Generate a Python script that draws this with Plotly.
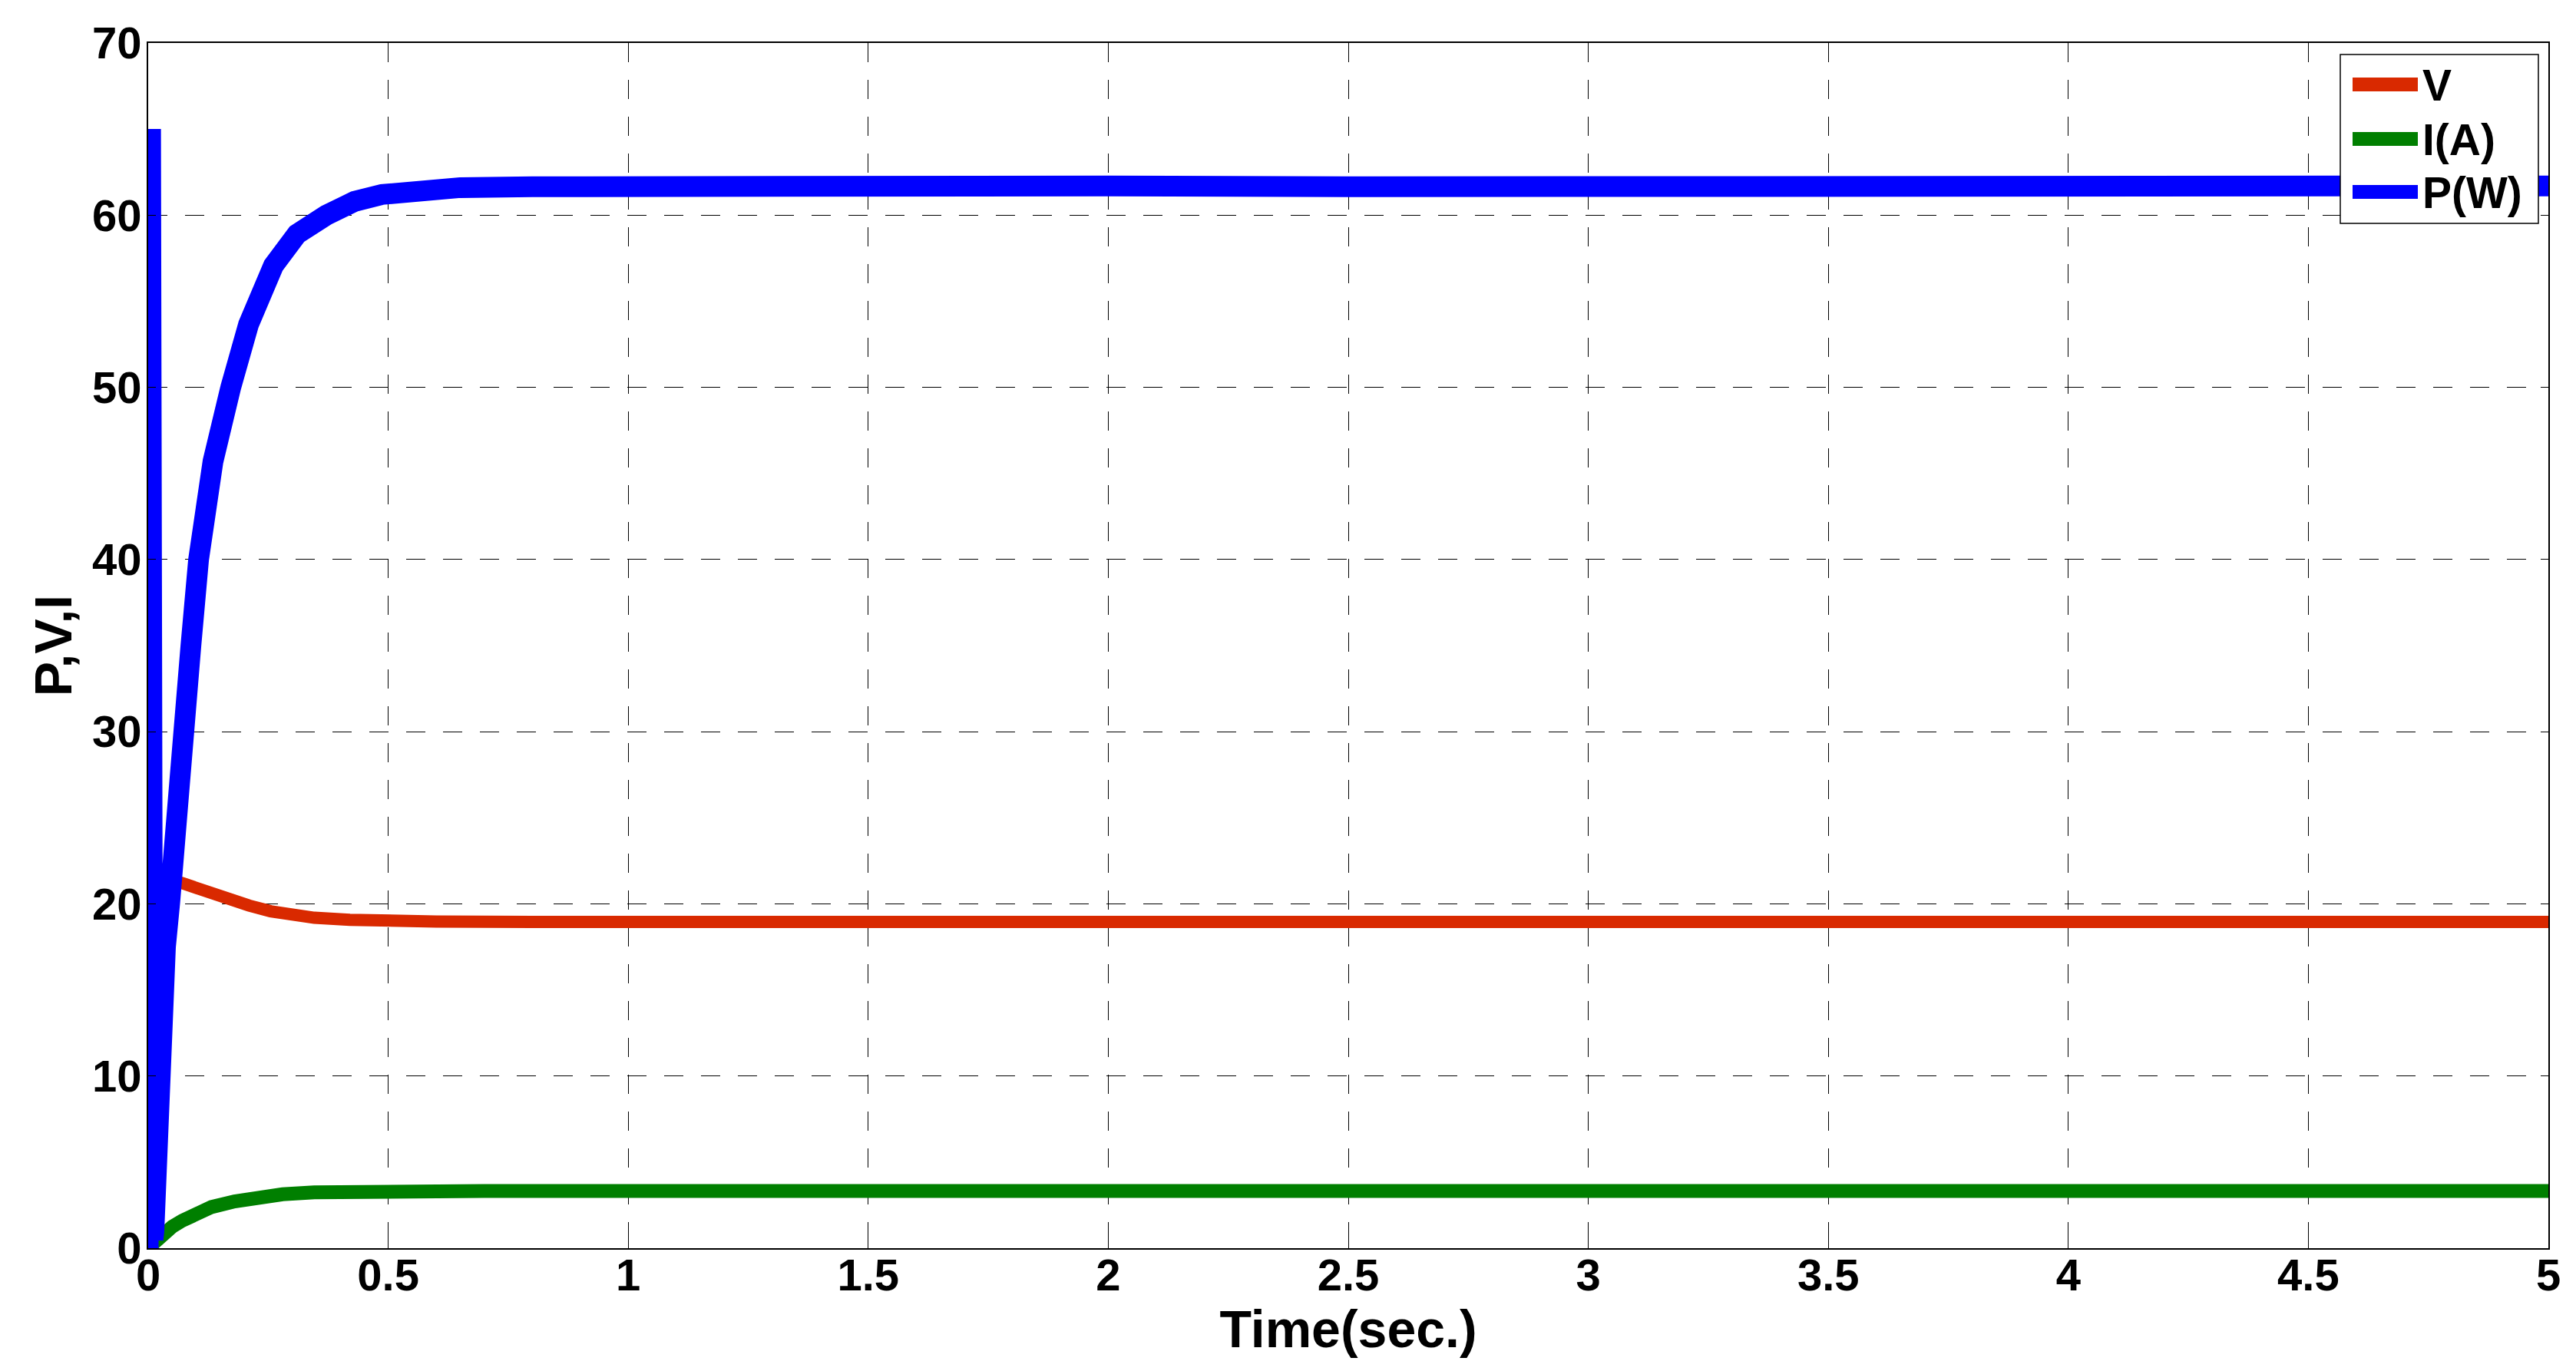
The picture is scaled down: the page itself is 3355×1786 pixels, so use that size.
import plotly.graph_objects as go

# ---------------- data ----------------
t_P = [0.0, 0.005, 0.010, 0.012, 0.016, 0.022, 0.028, 0.036, 0.045, 0.059, 0.071,
       0.089, 0.105, 0.135, 0.172, 0.209, 0.261, 0.31, 0.371, 0.43, 0.487, 0.55,
       0.65, 0.8, 1.0, 1.5, 2.0, 2.5, 3.0, 3.5, 4.0, 4.5, 5.0]
P_W = [0.0, 65.0, 0.5, 1.0, 5.5, 10.0, 14.6, 17.5, 20.1, 25.9, 30.0,
       35.0, 40.0, 45.7, 50.0, 53.65, 57.07, 58.9, 60.0, 60.8, 61.2, 61.45,
       61.6, 61.65, 61.7, 61.75, 61.7, 61.65, 61.7, 61.7, 61.7, 61.7, 61.7]

t_V = [0.0, 0.012, 0.02, 0.03, 0.071, 0.12, 0.163, 0.21, 0.255, 0.3, 0.346,
       0.42, 0.498, 0.6, 0.8, 1.0, 1.5, 2.0, 2.5, 3.0, 3.5, 4.0, 4.5, 5.0]
V = [21.9, 21.9, 21.7, 21.5, 21.2, 20.7, 20.26, 19.9, 19.57, 19.35, 19.19,
     19.07, 19.0, 18.97, 18.95, 18.95, 18.95, 18.95, 18.95, 18.95, 18.95, 18.95, 18.95, 18.95]

t_I = [0.0, 0.012, 0.031, 0.05, 0.071, 0.1, 0.132, 0.18, 0.224, 0.28, 0.346,
       0.42, 0.5, 0.7, 1.0, 1.5, 2.0, 2.5, 3.0, 3.5, 4.0, 4.5, 5.0]
I_A = [0.0, 0.35, 0.81, 1.25, 1.6, 2.0, 2.39, 2.72, 2.97, 3.13, 3.24,
       3.29, 3.31, 3.32, 3.32, 3.32, 3.32, 3.32, 3.32, 3.32, 3.32, 3.32, 3.32]

series_names = ["V", "I(A)", "P(W)"]
series_colors = ["#d92900", "#007f00", "#0000ff"]
x_ticks = [0, 0.5, 1, 1.5, 2, 2.5, 3, 3.5, 4, 4.5, 5]
y_ticks = [0, 10, 20, 30, 40, 50, 60, 70]

# ---------------- figure ----------------
# page body has an 8px margin: size/offset the figure so the plot area
# lands on page pixels x 193..3319, y 56..1626
BODY = 8
W, H = 3355 - 2 * BODY, 1786 - 2 * BODY
ML, MR, MT = 193 - BODY, 3355 - BODY - 3319, 56 - BODY
MB = H - MT - (1626 - 56)
FONT = "Liberation Sans, Arial, sans-serif"

fig = go.Figure()
fig.add_trace(go.Scatter(x=t_V, y=V, mode="lines", name=series_names[0],
                         line=dict(color=series_colors[0], width=16), showlegend=False))
fig.add_trace(go.Scatter(x=t_I, y=I_A, mode="lines", name=series_names[1],
                         line=dict(color=series_colors[1], width=18), showlegend=False))
fig.add_trace(go.Scatter(x=t_P, y=P_W, mode="lines", name=series_names[2],
                         line=dict(color=series_colors[2], width=27), showlegend=False))

axis_common = dict(
    showline=True, linecolor="black", linewidth=2, mirror="ticks",
    ticks="inside", ticklen=10, tickwidth=1, tickcolor="black",
    showgrid=True, gridcolor="black", gridwidth=1, griddash="25px,23px",
    zeroline=False,
    tickfont=dict(family=FONT, size=58, color="black", weight="bold"),
)

fig.update_xaxes(range=[0, 5], tickvals=x_ticks, ticktext=[f"{v:g}" for v in x_ticks],
                 ticklabelstandoff=-17,
                 title=dict(text="Time(sec.)", standoff=8,
                            font=dict(family=FONT, size=68, color="black", weight="bold")),
                 **axis_common)
fig.update_yaxes(range=[0, 70], tickvals=y_ticks, ticktext=[str(v) for v in y_ticks],
                 ticklabelstandoff=-5,
                 title=dict(text="P,V,I", standoff=4,
                            font=dict(family=FONT, size=68, color="black", weight="bold")),
                 **axis_common)

# ---------------- legend (drawn in paper coordinates) ----------------
pw, ph = 3319 - 193, 1626 - 56
def px_x(p):
    return (p - 193) / pw
def px_y(p):
    return (1626 - p) / ph

shapes = [dict(type="rect", xref="paper", yref="paper",
               x0=px_x(3048), x1=px_x(3306), y0=px_y(291), y1=px_y(71),
               fillcolor="white", line=dict(color="black", width=1.5), layer="above")]
annotations = []
row_y = [110, 181, 250]
for name, col, ry in zip(series_names, series_colors, row_y):
    shapes.append(dict(type="line", xref="paper", yref="paper",
                       x0=px_x(3064), x1=px_x(3149), y0=px_y(ry), y1=px_y(ry),
                       line=dict(color=col, width=18), layer="above"))
    annotations.append(dict(xref="paper", yref="paper", x=px_x(3153), y=px_y(ry + 1),
                            xanchor="left", yanchor="middle", showarrow=False, text=name,
                            font=dict(family=FONT, size=57, color="black", weight="bold")))

fig.update_layout(
    width=W, height=H, autosize=False,
    margin=dict(l=ML, r=MR, t=MT, b=MB, pad=0),
    paper_bgcolor="white", plot_bgcolor="white",
    shapes=shapes, annotations=annotations,
    showlegend=False,
)

fig.write_html("out.html")
